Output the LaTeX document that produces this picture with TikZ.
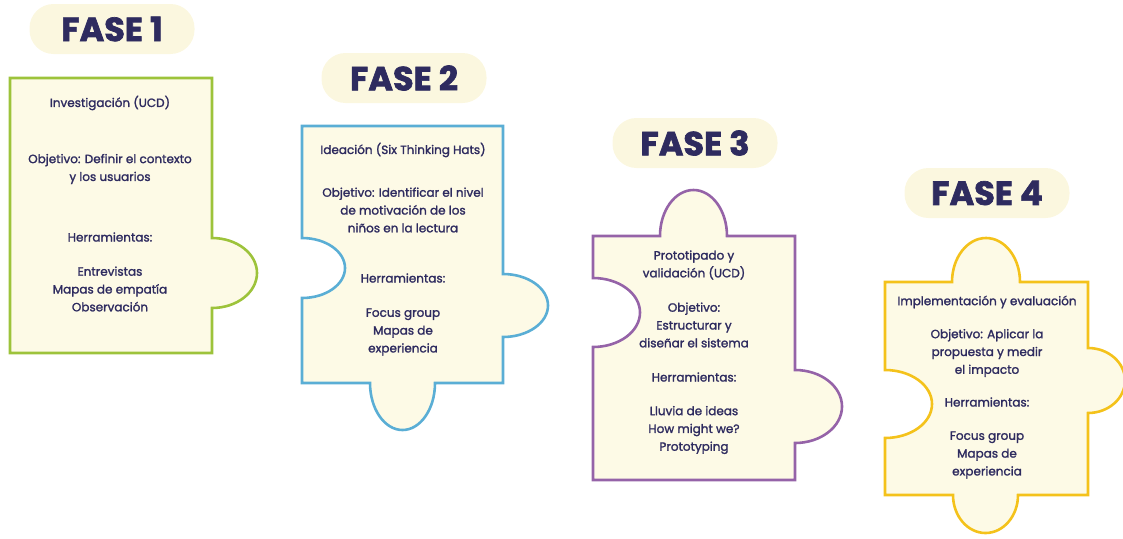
\documentclass[tikz,border=0pt]{standalone}
\usepackage{fontspec}
\setmainfont{Poppins}
\newfontfamily\bodyfont{Poppins}[FakeBold=1.6]
\newfontfamily\headfont{Poppins}[FakeBold=2]
\definecolor{ink}{HTML}{2E2B5F}
\definecolor{cream}{HTML}{FDFAE6}
\definecolor{pill}{HTML}{FBF7DF}
\definecolor{cgreen}{HTML}{9DC33B}
\definecolor{cblue}{HTML}{5AAED5}
\definecolor{cpurple}{HTML}{9563A8}
\definecolor{cyellow}{HTML}{F4C21B}
\tikzset{
  piece/.style={draw=#1, line width=2.6pt, fill=cream, line join=miter},
  phase/.style={fill=pill, rounded corners=24pt, minimum width=165pt, minimum height=50pt,
    text=ink, font=\headfont\fontsize{33.5}{35}\selectfont\bfseries, inner sep=0pt},
  txt/.style={text=ink, align=center, font=\bodyfont\fontsize{12}{17.8}\selectfont, inner sep=0pt},
}
\begin{document}
\begin{tikzpicture}[x=1pt,y=-1pt]
\useasboundingbox (0,0) rectangle (1123,538);
% phase labels
\node[phase] (f1) at (112,29) {FASE 1};
\node[phase] (f2) at (404,78) {FASE 2};
\node[phase] (f3) at (695,143) {FASE 3};
\node[phase] (f4) at (987,193) {FASE 4};
% piece 1
\draw[piece=cgreen] (10,78) -- (212,78) -- (212,238)
  arc[start angle=-90,end angle=90,x radius=45,y radius=35]
  -- (212,353) -- (10,353) -- cycle;
% piece 2
\draw[piece=cblue] (302,126) -- (503,126) -- (503,274)
  arc[start angle=-90,end angle=90,x radius=45,y radius=31.5]
  -- (503,383) -- (435,383)
  arc[start angle=0,end angle=180,x radius=32.5,y radius=47]
  -- (302,383) -- (302,298)
  arc[start angle=90,end angle=-90,x radius=43,y radius=30]
  -- cycle;
% piece 3
\draw[piece=cpurple] (593,236) -- (660,236)
  arc[start angle=180,end angle=360,x radius=33.5,y radius=46]
  -- (795,236) -- (795,370)
  arc[start angle=-90,end angle=90,x radius=47,y radius=36.5]
  -- (795,480) -- (593,480) -- (593,347)
  arc[start angle=90,end angle=-90,x radius=47,y radius=34.5]
  -- cycle;
% piece 4
\draw[piece=cyellow] (885,282) -- (952,282)
  arc[start angle=180,end angle=360,x radius=34,y radius=44]
  -- (1088,282) -- (1088,348)
  arc[start angle=-90,end angle=90,x radius=37,y radius=32.5]
  -- (1088,495) -- (1018,495)
  arc[start angle=0,end angle=180,x radius=32.5,y radius=38]
  -- (885,495) -- (885,438)
  arc[start angle=90,end angle=-90,x radius=47,y radius=34]
  -- cycle;
% texts piece 1
\node[txt] (t1a) at (110,103) {Investigación (UCD)};
\node[txt] (t1b) at (110,169) {Objetivo: Definir el contexto\\y los usuarios};
\node[txt] (t1c) at (110,237) {Herramientas:};
\node[txt] (t1d) at (110,289) {Entrevistas\\Mapas de empatía\\Observación};
% texts piece 2
\node[txt] (t2a) at (403,150) {Ideación (Six Thinking Hats)};
\node[txt] (t2b) at (403,210) {Objetivo: Identificar el nivel\\de motivación de los\\niños en la lectura};
\node[txt] (t2c) at (403,278) {Herramientas:};
\node[txt] (t2d) at (403,332) {Focus group\\Mapas de\\experiencia};
% texts piece 3
\node[txt] (t3a) at (694,265) {Prototipado y\\validación (UCD)};
\node[txt] (t3b) at (694,325) {Objetivo:\\Estructurar y\\diseñar el sistema};
\node[txt] (t3c) at (694,377) {Herramientas:};
\node[txt] (t3d) at (694,430) {Lluvia de ideas\\How might we?\\Prototyping};
% texts piece 4
\node[txt] (t4a) at (987,302) {Implementación y evaluación};
\node[txt] (t4b) at (987,353) {Objetivo: Aplicar la\\propuesta y medir\\el impacto};
\node[txt] (t4c) at (987,402) {Herramientas:};
\node[txt] (t4d) at (987,455) {Focus group\\Mapas de\\experiencia};
\end{tikzpicture}
\end{document}
